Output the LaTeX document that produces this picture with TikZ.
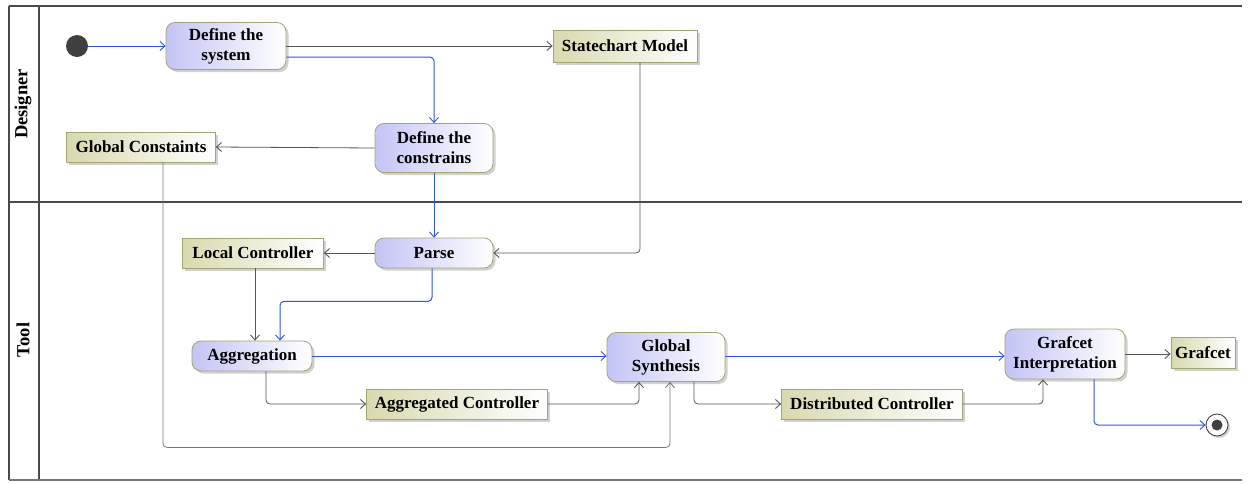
\documentclass[tikz,border=0pt]{standalone}
\usepackage{fontspec}
\setmainfont{Liberation Serif}
\usetikzlibrary{arrows.meta,shadows,positioning}
\definecolor{lav}{HTML}{C4C4F6}
\definecolor{khaki}{HTML}{D9D9B0}
\definecolor{olive}{HTML}{A4A472}
\definecolor{flowblue}{HTML}{2F55DC}
\definecolor{linegray}{HTML}{555555}
\definecolor{lanegray}{HTML}{4A4A4A}
\tikzset{
  lbl/.style={font=\fontsize{17}{20}\selectfont\bfseries},
  lanelbl/.style={font=\fontsize{18.5}{22}\selectfont\bfseries},
  action/.style={lbl, draw=olive, line width=0.8pt, rounded corners=9pt, left color=lav, right color=white, align=center, inner sep=2pt,
    drop shadow={shadow xshift=2.5pt, shadow yshift=-2.5pt, fill=black!30, opacity=0.6}},
  objbox/.style={lbl, draw=olive, line width=0.8pt, left color=khaki, right color=white, align=center, inner sep=2pt, minimum height=30pt,
    drop shadow={shadow xshift=2.5pt, shadow yshift=-2.5pt, fill=black!30, opacity=0.6}},
  tip/.style={-{Straight Barb[length=5pt,width=9pt,line width=0.9pt]}},
  ctrl/.style={tip, draw=flowblue, line width=1pt, rounded corners=4pt},
  obj/.style={tip, draw=linegray, line width=0.8pt, rounded corners=4pt},
  lane/.style={draw=lanegray, line width=2.6pt},
}
\begin{document}
\begin{tikzpicture}[x=1pt,y=-1pt]
\useasboundingbox (0,0) rectangle (1248,483);
% swimlane frame
\draw[lane] (9,6) -- (1242,6);
\draw[lane] (9,6) -- (9,480);
\draw[lane] (39,6) -- (39,480);
\draw[lane] (9,202) -- (1242,202);
\draw[draw=lanegray!75, line width=2pt] (9,480) -- (1242,480);
\node[lanelbl, rotate=90] (lDesigner) at (23,104) {Designer};
\node[lanelbl, rotate=90] (lTool) at (23,340) {Tool};

% nodes
\node[circle, fill=black!75, minimum size=22pt, inner sep=0pt] (init) at (77,46) {};
\node[action, minimum width=120pt, minimum height=47pt] (ds) at (226,46) {Define the\\system};
\node[objbox, minimum width=144pt, minimum height=32pt] (sm) at (625,46) {Statechart Model};
\node[action, minimum width=118pt, minimum height=49pt] (dc) at (434,148) {Define the\\constrains};
\node[objbox, minimum width=149pt] (gc) at (141,147) {Global Constaints};
\node[action, minimum width=118pt, minimum height=30pt] (parse) at (434,253) {Parse};
\node[objbox, minimum width=141pt] (lc) at (253,253) {Local Controller};
\node[action, minimum width=120pt, minimum height=30pt] (agg) at (252,356) {Aggregation};
\node[objbox, minimum width=181pt] (ac) at (457,404) {Aggregated Controller};
\node[action, minimum width=118pt, minimum height=49pt] (gs) at (666,357) {Global\\Synthesis};
\node[objbox, minimum width=181pt] (dist) at (872,404) {Distributed Controller};
\node[action, minimum width=120pt, minimum height=50pt] (gi) at (1065,354) {Grafcet\\Interpretation};
\node[objbox, minimum width=64pt, minimum height=31pt] (gf) at (1203,353) {Grafcet};
\node[circle, draw=black!80, line width=0.8pt, fill=white, minimum size=22pt, inner sep=0pt,
  drop shadow={shadow xshift=2pt, shadow yshift=-2pt, fill=black!30, opacity=0.6}] (fin) at (1217,425) {};
\node[circle, fill=black!75, minimum size=11pt, inner sep=0pt] (finin) at (fin.center) {};

% control flows
\draw[ctrl] (init.east) -- (ds.west);
\draw[ctrl] ([yshift=-11pt]ds.east) -| (dc.north);
\draw[ctrl] (dc.south) -- (parse.north);
\draw[ctrl] ([xshift=-2pt]parse.south) -- ++(0,33) -| ([xshift=28pt]agg.north);
\draw[ctrl] (agg.east) -- (gs.west |- agg.east);
\draw[ctrl] (gs.east |- agg.east) -- (gi.west |- agg.east);
\draw[ctrl] ([xshift=29pt]gi.south) |- (fin.west);

% object flows
\draw[obj] (ds.east) -- (sm.west);
\draw[obj] (dc.west) -- (gc.east);
\draw[obj] ([xshift=15pt]sm.south) |- (parse.east);
\draw[obj] (parse.west) -- (lc.east);
\draw[obj] ([xshift=2pt]lc.south) -- ([xshift=2pt]lc.south |- agg.north);
\draw[obj] ([xshift=14pt]agg.south) |- (ac.west);
\draw[obj] (ac.east) -| ([xshift=-27pt]gs.south);
\draw[obj, draw=linegray!80] ([xshift=22pt]gc.south) -- ++(0,285) -| ([xshift=4pt]gs.south);
\draw[obj] ([xshift=28pt]gs.south) |- (dist.west);
\draw[obj] (dist.east) -| ([xshift=-22pt]gi.south);
\draw[obj] (gi.east) -- (gi.east -| gf.west);
\end{tikzpicture}
\end{document}
